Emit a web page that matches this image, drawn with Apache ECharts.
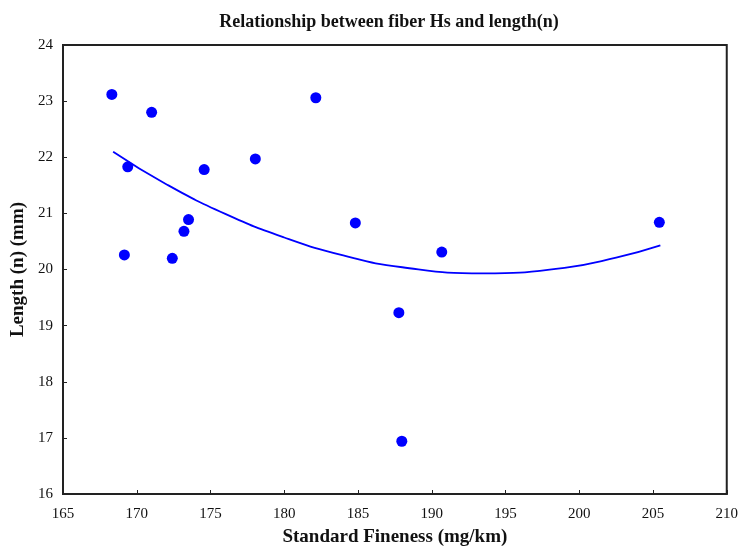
<!DOCTYPE html>
<html>
<head>
<meta charset="utf-8">
<script src="https://cdn.jsdelivr.net/npm/echarts@6/dist/echarts.min.js"></script>
<style>
  html, body { margin: 0; padding: 0; background: #fff; }
  #main { width: 741px; height: 554px; }
</style>
</head>
<body>
<div id="main"></div>
<script>
// fineness (mg/km) vs length (mm)
const fineness = [168.31, 171.01, 169.39, 174.57, 173.51, 173.20, 169.16, 172.41,
  182.14, 178.04, 184.82, 190.68, 187.77, 187.97, 205.43];
const lengths = [23.12, 22.80, 21.83, 21.78, 20.89, 20.68, 20.26, 20.20,
  23.06, 21.97, 20.83, 20.31, 19.23, 16.94, 20.84];

// fitted curve
const fitX = [168.4, 172, 176, 180, 184, 188, 193.5, 199, 202.5, 205.5];
const fitY = [22.10, 21.52, 20.99, 20.57, 20.25, 20.04, 19.93, 20.03, 20.21, 20.43];

const serif = '"Liberation Serif", "DejaVu Serif", serif';
const chart = echarts.init(document.getElementById('main'));

chart.setOption({
  animation: false,
  title: {
    text: 'Relationship between fiber Hs and length(n)',
    left: 384,
    top: 8,
    textAlign: 'center',
    textStyle: { fontFamily: serif, fontSize: 18, fontWeight: 'bold', color: '#111' }
  },
  grid: {
    left: 63, right: 13, top: 45, bottom: 60,
    show: true, borderColor: '#222', borderWidth: 2, backgroundColor: '#fff'
  },
  xAxis: {
    type: 'value',
    min: 165, max: 210, interval: 5,
    name: 'Standard Fineness (mg/km)',
    nameLocation: 'middle',
    nameGap: 34,
    nameTextStyle: { fontFamily: serif, fontSize: 19, fontWeight: 'bold', color: '#111' },
    axisLine: { show: true, lineStyle: { color: '#222', width: 2 } },
    axisTick: { show: true, inside: true, length: 4, lineStyle: { color: '#222' } },
    axisLabel: { fontFamily: serif, fontSize: 15, color: '#111', margin: 13 },
    splitLine: { show: false }
  },
  yAxis: {
    type: 'value',
    min: 16, max: 24, interval: 1,
    name: 'Length (n) (mm)',
    nameLocation: 'middle',
    nameGap: 33,
    nameTextStyle: { fontFamily: serif, fontSize: 19, fontWeight: 'bold', color: '#111' },
    axisLine: { show: true, lineStyle: { color: '#222', width: 2 } },
    axisTick: { show: true, inside: true, length: 4, lineStyle: { color: '#222' } },
    axisLabel: { fontFamily: serif, fontSize: 15, color: '#111', margin: 10 },
    splitLine: { show: false }
  },
  series: [
    {
      type: 'line',
      data: fitX.map((x, i) => [x, fitY[i]]),
      smooth: true,
      showSymbol: false,
      lineStyle: { color: '#0000ff', width: 1.8 },
      z: 2
    },
    {
      type: 'scatter',
      data: fineness.map((x, i) => [x, lengths[i]]),
      symbolSize: 11,
      itemStyle: { color: '#0000ff', opacity: 1 },
      z: 3
    }
  ]
});
</script>
</body>
</html>
